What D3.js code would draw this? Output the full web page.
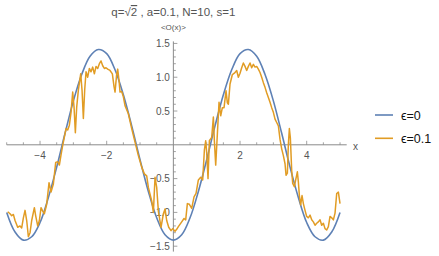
<!DOCTYPE html>
<html>

<head>
    <meta charset="utf-8">
    <title>Expectation value plot</title>
    <script src="https://unpkg.com/d3@7.8.2/dist/d3.min.js"></script>
    <style>
        body { margin: 0; background: #fff; }
        text { font-family: "Liberation Sans", Arial, sans-serif; }
    </style>
</head>

<body>
    <div id="chart"></div>

    <script>
        // eps = 0 curve, every 0.25
        const eps0X = [-5, -4.75, -4.5, -4.25, -4, -3.75, -3.5, -3.25, -3, -2.75, -2.5, -2.25, -2, -1.75, -1.5, -1.25, -1, -0.75, -0.5, -0.25,
            0, 0.25, 0.5, 0.75, 1, 1.25, 1.5, 1.75, 2, 2.25, 2.5, 2.75, 3, 3.25, 3.5, 3.75, 4, 4.25, 4.5, 4.75, 5];
        const eps0Y = [-1.00, -1.29, -1.41, -1.36, -1.15, -0.78, -0.33, 0.17, 0.65, 1.04, 1.31, 1.41, 1.35, 1.11, 0.74, 0.28, -0.22, -0.69, -1.08, -1.33,
            -1.41, -1.33, -1.08, -0.69, -0.22, 0.28, 0.74, 1.11, 1.35, 1.41, 1.31, 1.04, 0.65, 0.17, -0.33, -0.78, -1.15, -1.36, -1.41, -1.29, -1.00];

        // eps = 0.1 curve (noisy)
        const eps01X = [-4.97, -4.90, -4.85, -4.80, -4.75, -4.67, -4.60, -4.55, -4.50, -4.45, -4.40, -4.35, -4.30, -4.25, -4.17, -4.13, -4.07, -4.02,
            -3.97, -3.92, -3.87, -3.80, -3.73, -3.67, -3.60, -3.53, -3.47, -3.42, -3.37, -3.32, -3.22, -3.17, -3.12, -3.07, -3.02, -2.98,
            -2.94, -2.90, -2.85, -2.78, -2.74, -2.70, -2.66, -2.62, -2.57, -2.52, -2.47, -2.42, -2.37, -2.32, -2.27, -2.22, -2.17, -2.12,
            -2.07, -2.02, -1.97, -1.90, -1.83, -1.78, -1.75, -1.70, -1.67, -1.63, -1.60, -1.55, -1.50, -1.45, -1.35, -1.25, -1.15, -1.05,
            -0.95, -0.87, -0.80, -0.75, -0.65, -0.60, -0.55, -0.50, -0.45, -0.37, -0.30, -0.25, -0.20, -0.14, -0.07, -0.02, 0.05, 0.10,
            0.15, 0.25, 0.32, 0.37, 0.42, 0.48, 0.55, 0.62, 0.68, 0.75, 0.82, 0.88, 0.93, 0.97, 1.00, 1.04, 1.08, 1.15, 1.20, 1.23,
            1.27, 1.32, 1.37, 1.42, 1.47, 1.52, 1.58, 1.62, 1.65, 1.70, 1.77, 1.83, 1.90, 1.95, 2.00, 2.05, 2.10, 2.15, 2.20, 2.25,
            2.30, 2.35, 2.40, 2.45, 2.50, 2.55, 2.60, 2.65, 2.70, 2.75, 2.80, 2.85, 2.90, 2.95, 3.00, 3.05, 3.10, 3.15, 3.20, 3.25,
            3.30, 3.35, 3.38, 3.42, 3.45, 3.48, 3.51, 3.55, 3.58, 3.63, 3.67, 3.72, 3.75, 3.78, 3.82, 3.86, 3.90, 3.95, 4.00, 4.05,
            4.10, 4.15, 4.20, 4.25, 4.30, 4.35, 4.40, 4.45, 4.50, 4.55, 4.60, 4.65, 4.70, 4.75, 4.80, 4.85, 4.90, 4.95, 5.00];
        const eps01Y = [-0.99, -1.02, -1.05, -1.03, -1.12, -1.22, -1.20, -1.23, -1.08, -0.97, -1.12, -1.36, -1.30, -1.12, -0.93, -1.05, -1.20, -1.12,
            -0.93, -0.98, -1.02, -0.88, -0.56, -0.70, -0.58, -0.26, -0.25, -0.30, -0.15, -0.01, 0.24, 0.22, 0.29, 0.48, 0.78, 0.56,
            0.18, 0.56, 0.81, 1.05, 0.81, 0.39, 0.81, 1.08, 1.00, 1.13, 1.08, 1.15, 1.05, 1.16, 1.13, 1.20, 1.24, 1.17,
            1.13, 1.14, 1.12, 1.10, 1.05, 0.86, 0.78, 1.05, 1.12, 0.95, 0.78, 0.79, 0.71, 0.58, 0.46, 0.24, 0.04, -0.16,
            -0.33, -0.43, -0.46, -0.63, -0.83, -1.00, -0.48, -0.63, -0.98, -1.22, -1.02, -0.95, -1.12, -1.22, -1.27, -1.24, -1.28, -1.25,
            -1.21, -1.14, -1.09, -1.11, -0.87, -0.88, -0.94, -0.77, -0.72, -0.52, -0.48, -0.52, -0.08, 0.06, -0.12, -0.50, 0.06, 0.11, 0.41, 0.06,
            -0.30, 0.16, 0.63, 0.43, 0.55, 0.55, 0.80, 0.62, 0.60, 0.90, 1.04, 1.06, 1.10, 1.00, 1.06, 1.14, 1.21, 1.16, 1.10, 1.16,
            1.21, 1.14, 1.19, 1.15, 1.16, 1.12, 1.07, 1.00, 0.92, 0.85, 0.77, 0.70, 0.63, 0.55, 0.48, 0.38, 0.33, 0.28, 0.08, -0.06,
            -0.16, -0.28, -0.45, -0.42, 0.01, 0.24, 0.10, -0.38, -0.57, -0.62, -0.52, -0.40, -0.55, -0.75, -0.89, -0.75, -0.87, -0.97, -1.06, -1.08,
            -1.04, -1.11, -1.14, -1.19, -1.16, -1.14, -1.11, -1.19, -1.16, -1.24, -1.26, -1.21, -1.06, -1.08, -1.11, -1.01, -0.72, -0.70, -0.87];

        // tick labels
        const xTickLabels = [-4, -2, 2, 4];
        const yTickLabels = [-1.5, -1.0, -0.5, 0.5, 1.0, 1.5];
        const legendNames = ["\u03F5=0", "\u03F5=0.1"];

        const width = 439, height = 256;
        const blue = "#5E81B5", orange = "#E19C24";

        const svg = d3.select("#chart")
            .append("svg")
            .attr("width", width)
            .attr("height", height);

        // scales
        const x = d3.scaleLinear().domain([-5, 5.2]).range([6.7, 346.7]);
        const y = d3.scaleLinear().domain([-1.58, 1.53]).range([251.6, 41.4]);

        const axisCol = "#8a8a8a", labelCol = "#555";

        // x axis line
        svg.append("line")
            .attr("x1", x(-5)).attr("x2", x(5.2))
            .attr("y1", y(0)).attr("y2", y(0))
            .attr("stroke", axisCol).attr("stroke-width", 1);

        // y axis line
        svg.append("line")
            .attr("x1", x(0)).attr("x2", x(0))
            .attr("y1", y(1.53)).attr("y2", y(-1.58))
            .attr("stroke", axisCol).attr("stroke-width", 1);

        // x ticks (pointing up), minor every 0.5
        const xTicks = d3.range(-5, 5.01, 0.5).filter(v => Math.abs(v) > 1e-9);
        svg.selectAll(".xt")
            .data(xTicks)
            .enter()
            .append("line")
            .attr("x1", d => x(d)).attr("x2", d => x(d))
            .attr("y1", y(0))
            .attr("y2", d => y(0) - (Math.abs(d % 2) < 1e-9 ? 4 : 2.5))
            .attr("stroke", axisCol).attr("stroke-width", 0.8);

        // y ticks (pointing right), minor every 0.1
        const yTicks = d3.range(-15, 16, 1).map(v => v / 10).filter(v => v !== 0);
        svg.selectAll(".yt")
            .data(yTicks)
            .enter()
            .append("line")
            .attr("x1", x(0))
            .attr("x2", d => x(0) + (Math.round(d * 10) % 5 === 0 ? 4 : 2.5))
            .attr("y1", d => y(d)).attr("y2", d => y(d))
            .attr("stroke", axisCol).attr("stroke-width", 0.8);

        // tick labels
        const fmtNeg = s => s.replace("-", "\u2212");
        svg.selectAll(".xl")
            .data(xTickLabels)
            .enter()
            .append("text")
            .attr("x", d => x(d))
            .attr("y", y(0) + 14)
            .attr("text-anchor", "middle")
            .attr("font-size", 10)
            .attr("fill", labelCol)
            .text(d => fmtNeg(String(d)));

        svg.selectAll(".yl")
            .data(yTickLabels)
            .enter()
            .append("text")
            .attr("x", x(0) - 3.5)
            .attr("y", d => y(d) + 3.6)
            .attr("text-anchor", "end")
            .attr("font-size", 10)
            .attr("fill", labelCol)
            .text(d => fmtNeg(d.toFixed(1)));

        // axis labels
        svg.append("text")
            .attr("x", x(0))
            .attr("y", 30)
            .attr("text-anchor", "middle")
            .attr("font-size", 8)
            .attr("fill", labelCol)
            .text("<O(x)>");

        svg.append("text")
            .attr("x", 353)
            .attr("y", 149.5)
            .attr("font-size", 10)
            .attr("fill", labelCol)
            .text("x");

        // title
        const title = svg.append("text")
            .attr("x", x(0))
            .attr("y", 16)
            .attr("text-anchor", "middle")
            .attr("font-size", 11.5)
            .attr("fill", labelCol);
        title.append("tspan").text("q=\u221A");
        title.append("tspan").style("text-decoration", "overline").text("2");
        title.append("tspan").text(" , a=0.1, N=10, s=1");

        // curves
        const line0 = d3.line()
            .x((d, i) => x(eps0X[i]))
            .y(d => y(d))
            .curve(d3.curveCatmullRom);

        const line1 = d3.line()
            .x((d, i) => x(eps01X[i]))
            .y(d => y(d));

        svg.append("path")
            .attr("d", line0(eps0Y))
            .attr("fill", "none")
            .attr("stroke", blue)
            .attr("stroke-width", 1.6);

        svg.append("path")
            .attr("d", line1(eps01Y))
            .attr("fill", "none")
            .attr("stroke", orange)
            .attr("stroke-width", 1.5)
            .attr("stroke-linejoin", "round");

        // legend
        const legend = svg.selectAll(".leg")
            .data(legendNames)
            .enter()
            .append("g")
            .attr("transform", (d, i) => "translate(375," + (115 + i * 23.3) + ")");

        legend.append("line")
            .attr("x1", 0).attr("x2", 18)
            .attr("stroke", (d, i) => i === 0 ? blue : orange)
            .attr("stroke-width", 1.6);

        legend.append("text")
            .attr("x", 26)
            .attr("y", 4.5)
            .attr("font-size", 12.5)
            .attr("fill", "#111")
            .text(d => d);
    </script>
</body>

</html>
